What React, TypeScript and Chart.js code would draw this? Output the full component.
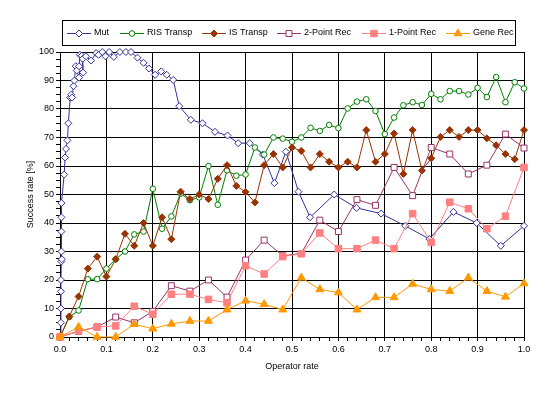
import React, { useEffect, useRef } from 'react';
import { Chart, registerables } from 'chart.js';

Chart.register(...registerables);

// ---- data ----
const SERIES_NAMES = ['Mut', 'RIS Transp', 'IS Transp', '2-Point Rec', '1-Point Rec', 'Gene Rec'];

// operator rates, step 0.02 (RIS / IS Transp)
const X_STEP2 = [
  0, 0.02, 0.04, 0.06, 0.08, 0.1, 0.12, 0.14, 0.16, 0.18,
  0.2, 0.22, 0.24, 0.26, 0.28, 0.3, 0.32, 0.34, 0.36, 0.38,
  0.4, 0.42, 0.44, 0.46, 0.48, 0.5, 0.52, 0.54, 0.56, 0.58,
  0.6, 0.62, 0.64, 0.66, 0.68, 0.7, 0.72, 0.74, 0.76, 0.78,
  0.8, 0.82, 0.84, 0.86, 0.88, 0.9, 0.92, 0.94, 0.96, 0.98, 1.0,
];
// operator rates, step 0.04 (recombination series)
const X_STEP4 = [
  0, 0.04, 0.08, 0.12, 0.16, 0.2, 0.24, 0.28, 0.32, 0.36,
  0.4, 0.44, 0.48, 0.52, 0.56, 0.6, 0.64, 0.68, 0.72, 0.76,
  0.8, 0.84, 0.88, 0.92, 0.96, 1.0,
];

const MUT_X = [
  0, 0.002, 0.002, 0.002, 0.002, 0.003, 0.004, 0.003, 0.003, 0.003, 0.003,
  0.009, 0.011, 0.013, 0.016, 0.018, 0.022, 0.024, 0.026, 0.029, 0.031,
  0.034, 0.036, 0.041, 0.041, 0.043, 0.047, 0.05, 0.049, 0.056, 0.067,
  0.078, 0.083, 0.091, 0.098, 0.106, 0.116, 0.129, 0.142, 0.153, 0.167,
  0.18, 0.192, 0.205, 0.218, 0.23, 0.244, 0.257, 0.282, 0.307, 0.334,
  0.361, 0.384, 0.409, 0.437, 0.462, 0.487, 0.514, 0.539, 0.591, 0.639,
  0.692, 0.744, 0.796, 0.848, 0.898, 0.95, 1.0,
];
const MUT_Y = [
  0, 5, 10, 16, 20, 26.5, 27.3, 30, 37, 42, 47,
  57, 63, 66, 69, 75, 84, 85, 84, 88, 90,
  95, 93.5, 91, 95, 99, 98.7, 92.8, 97.6, 98.5, 97,
  99.6, 99, 100, 98.5, 100, 98.3, 100, 100, 100, 98,
  96.2, 94.2, 92, 93.2, 92, 90.2, 81, 76.2, 75, 72,
  70.7, 68, 68, 64, 54, 65, 51, 42, 50, 45.3,
  43.3, 39, 34.4, 43.9, 40, 32, 39,
];

const RIS_Y = [
  0, 7, 9.3, 20.3, 20.3, 24, 27.3, 30, 36, 37,
  52, 38, 42.3, 50.3, 48, 49, 60, 46.4, 58.5, 56.6,
  57, 66.5, 64, 70, 69.6, 68.5, 70, 73.4, 72.3, 74.4,
  73.3, 80.2, 82.6, 83.4, 79.3, 71.2, 77, 81.3, 82.4, 81.4,
  85.3, 83.4, 86.3, 86.3, 85.1, 87.4, 84.2, 91.2, 82.4, 89.4, 87.2,
];
const IS_Y = [
  0, 7.2, 14.2, 24, 28.2, 21.2, 27.3, 36.2, 32, 40,
  32, 42, 34.3, 51, 48.4, 50, 48.4, 55.5, 60.3, 53,
  50.9, 47.2, 60.3, 64.2, 59.5, 66.5, 65.3, 59.5, 64.2, 61.5,
  59.5, 61.5, 59.5, 72.6, 61.5, 64.2, 71.4, 57.2, 72.6, 58.4,
  62.7, 70.2, 72.6, 70.2, 72.6, 72.6, 69.7, 67.3, 64.2, 62.4, 72.6,
];
const TWO_POINT_Y = [
  0, 2, 3.5, 7, 5, 9, 18, 16.1, 20, 14,
  27, 34, 28.5, 29.3, 41, 37, 48.2, 46.2, 59.5, 49.6,
  66.5, 64.2, 57.2, 60.3, 71.2, 66.3,
];
const ONE_POINT_Y = [
  0, 2.1, 3.5, 3.9, 10.8, 8, 15, 15, 13.2, 12,
  25, 22.1, 28.2, 29.2, 36.5, 31, 31, 34, 31, 43.3,
  33.2, 47.3, 45, 38, 42.4, 59.5,
];
const GENE_Y = [
  0, 3.5, 0, 0, 4.5, 2.9, 4.6, 5.6, 5.6, 9.6,
  12.7, 11.5, 9.6, 20.8, 16.7, 15.6, 9.6, 13.9, 13.9, 18.6,
  16.7, 16.1, 20.8, 16.1, 14.1, 18.8,
];

const COLORS = ['#333399', '#008000', '#993300', '#993366', '#FF8080', '#FF9900'];
const FONT_FAMILY = "'Liberation Sans', Arial, Helvetica, sans-serif";

const pts = (xs: number[], ys: number[]) => xs.map((x, i) => ({ x, y: ys[i] }));

function drawMarker(ctx: CanvasRenderingContext2D, style: string, x: number, y: number, r: number, fill: string, stroke: string) {
  ctx.save();
  ctx.beginPath();
  if (style === 'rectRot') {
    ctx.moveTo(x - r, y);
    ctx.lineTo(x, y - r);
    ctx.lineTo(x + r, y);
    ctx.lineTo(x, y + r);
    ctx.closePath();
  } else if (style === 'circle') {
    ctx.arc(x, y, r, 0, Math.PI * 2);
  } else if (style === 'rect') {
    const s = Math.SQRT1_2 * r;
    ctx.rect(x - s, y - s, 2 * s, 2 * s);
  } else if (style === 'triangle') {
    let a = 0;
    ctx.moveTo(x + Math.sin(a) * r, y - Math.cos(a) * r);
    a += (2 * Math.PI) / 3;
    ctx.lineTo(x + Math.sin(a) * r, y - Math.cos(a) * r);
    a += (2 * Math.PI) / 3;
    ctx.lineTo(x + Math.sin(a) * r, y - Math.cos(a) * r);
    ctx.closePath();
  }
  ctx.fillStyle = fill;
  ctx.fill();
  ctx.strokeStyle = stroke;
  ctx.lineWidth = 1;
  ctx.stroke();
  ctx.restore();
}

const LEGEND_X = [67, 120, 202, 277, 362, 446];

const boxLegend = {
  id: 'boxLegend',
  afterDraw(chart: any) {
    const ctx: CanvasRenderingContext2D = chart.ctx;
    ctx.save();
    ctx.strokeStyle = '#000';
    ctx.lineWidth = 1;
    ctx.strokeRect(62.5, 20.5, 453, 25);
    const cy = 33;
    chart.data.datasets.forEach((ds: any, i: number) => {
      const x0 = LEGEND_X[i];
      ctx.strokeStyle = ds.borderColor;
      ctx.lineWidth = 1;
      ctx.beginPath();
      ctx.moveTo(x0, cy + 0.5);
      ctx.lineTo(x0 + 24, cy + 0.5);
      ctx.stroke();
      drawMarker(ctx, ds.pointStyle, x0 + 12, cy + 0.5, ds.pointRadius, ds.pointBackgroundColor, ds.borderColor);
      ctx.fillStyle = '#000';
      ctx.font = `9px ${FONT_FAMILY}`;
      ctx.textBaseline = 'middle';
      ctx.textAlign = 'left';
      ctx.fillText(ds.label, x0 + 27, cy);
    });
    ctx.restore();
  },
};

const isMult = (v: number, step: number) => Math.abs(v / step - Math.round(v / step)) < 1e-6;

export default function App() {
  const ref = useRef<HTMLCanvasElement | null>(null);

  useEffect(() => {
    if (!ref.current) return;
    const mk = (i: number, data: any[], pointStyle: string, radius: number, filled: boolean) => ({
      label: SERIES_NAMES[i],
      data,
      borderColor: COLORS[i],
      backgroundColor: filled ? COLORS[i] : '#ffffff',
      pointBackgroundColor: filled ? COLORS[i] : '#ffffff',
      pointBorderColor: COLORS[i],
      pointStyle,
      pointRadius: radius,
      pointBorderWidth: 1,
      borderWidth: 1,
      tension: 0,
      fill: false,
      clip: false as any,
      order: 6 - i,
    });

    const chart = new Chart(ref.current, {
      type: 'line',
      data: {
        datasets: [
          mk(0, pts(MUT_X, MUT_Y), 'rectRot', 3.5, false),
          mk(1, pts(X_STEP2, RIS_Y), 'circle', 2.8, false),
          mk(2, pts(X_STEP2, IS_Y), 'rectRot', 3.5, true),
          mk(3, pts(X_STEP4, TWO_POINT_Y), 'rect', 4.2, false),
          mk(4, pts(X_STEP4, ONE_POINT_Y), 'rect', 4.6, true),
          mk(5, pts(X_STEP4, GENE_Y), 'triangle', 4.6, true),
        ] as any,
      },
      options: {
        animation: false,
        responsive: false,
        devicePixelRatio: 1,
        layout: { padding: { top: 52, right: 13, left: 0, bottom: 0 } },
        plugins: {
          legend: { display: false },
          tooltip: { enabled: false },
        },
        scales: {
          x: {
            type: 'linear',
            min: 0,
            max: 1,
            ticks: {
              stepSize: 0.02,
              autoSkip: false,
              maxRotation: 0,
              minRotation: 0,
              padding: 3,
              color: '#000',
              font: { family: FONT_FAMILY, size: 9 },
              callback: (v: any) => (isMult(Number(v), 0.1) ? Number(v).toFixed(1) : ''),
            },
            grid: {
              color: (c: any) => (c.tick && isMult(c.tick.value, 0.1) ? '#000' : 'rgba(0,0,0,0)'),
              tickColor: '#000',
              tickLength: 4,
              lineWidth: 1,
            },
            border: { color: '#000', width: 1 },
            title: {
              display: true,
              text: 'Operator rate',
              color: '#000',
              font: { family: FONT_FAMILY, size: 9 },
              padding: { top: 0, bottom: 24 },
            },
            afterFit: (s: any) => {
              s.height = 59;
            },
          },
          y: {
            type: 'linear',
            min: 0,
            max: 100,
            ticks: {
              stepSize: 2.5,
              autoSkip: false,
              padding: 2,
              color: '#000',
              font: { family: FONT_FAMILY, size: 9 },
              callback: (v: any) => (isMult(Number(v), 10) ? String(Math.round(Number(v))) : ''),
            },
            grid: {
              color: (c: any) => (c.tick && isMult(c.tick.value, 10) ? '#000' : 'rgba(0,0,0,0)'),
              tickColor: '#000',
              tickLength: 4,
              lineWidth: 1,
            },
            border: { color: '#000', width: 1 },
            title: {
              display: true,
              text: 'Success rate [%]',
              color: '#000',
              font: { family: FONT_FAMILY, size: 9 },
              padding: { top: 25, bottom: 0 },
            },
            afterFit: (s: any) => {
              s.width = 60;
            },
          },
        },
      } as any,
      plugins: [boxLegend],
    });
    return () => chart.destroy();
  }, []);

  return (
    <div style={{ position: 'fixed', left: 0, top: 0, width: 537, height: 396, background: '#fff' }}>
      <canvas ref={ref} width={537} height={396} style={{ display: 'block', width: 537, height: 396 }} />
    </div>
  );
}
